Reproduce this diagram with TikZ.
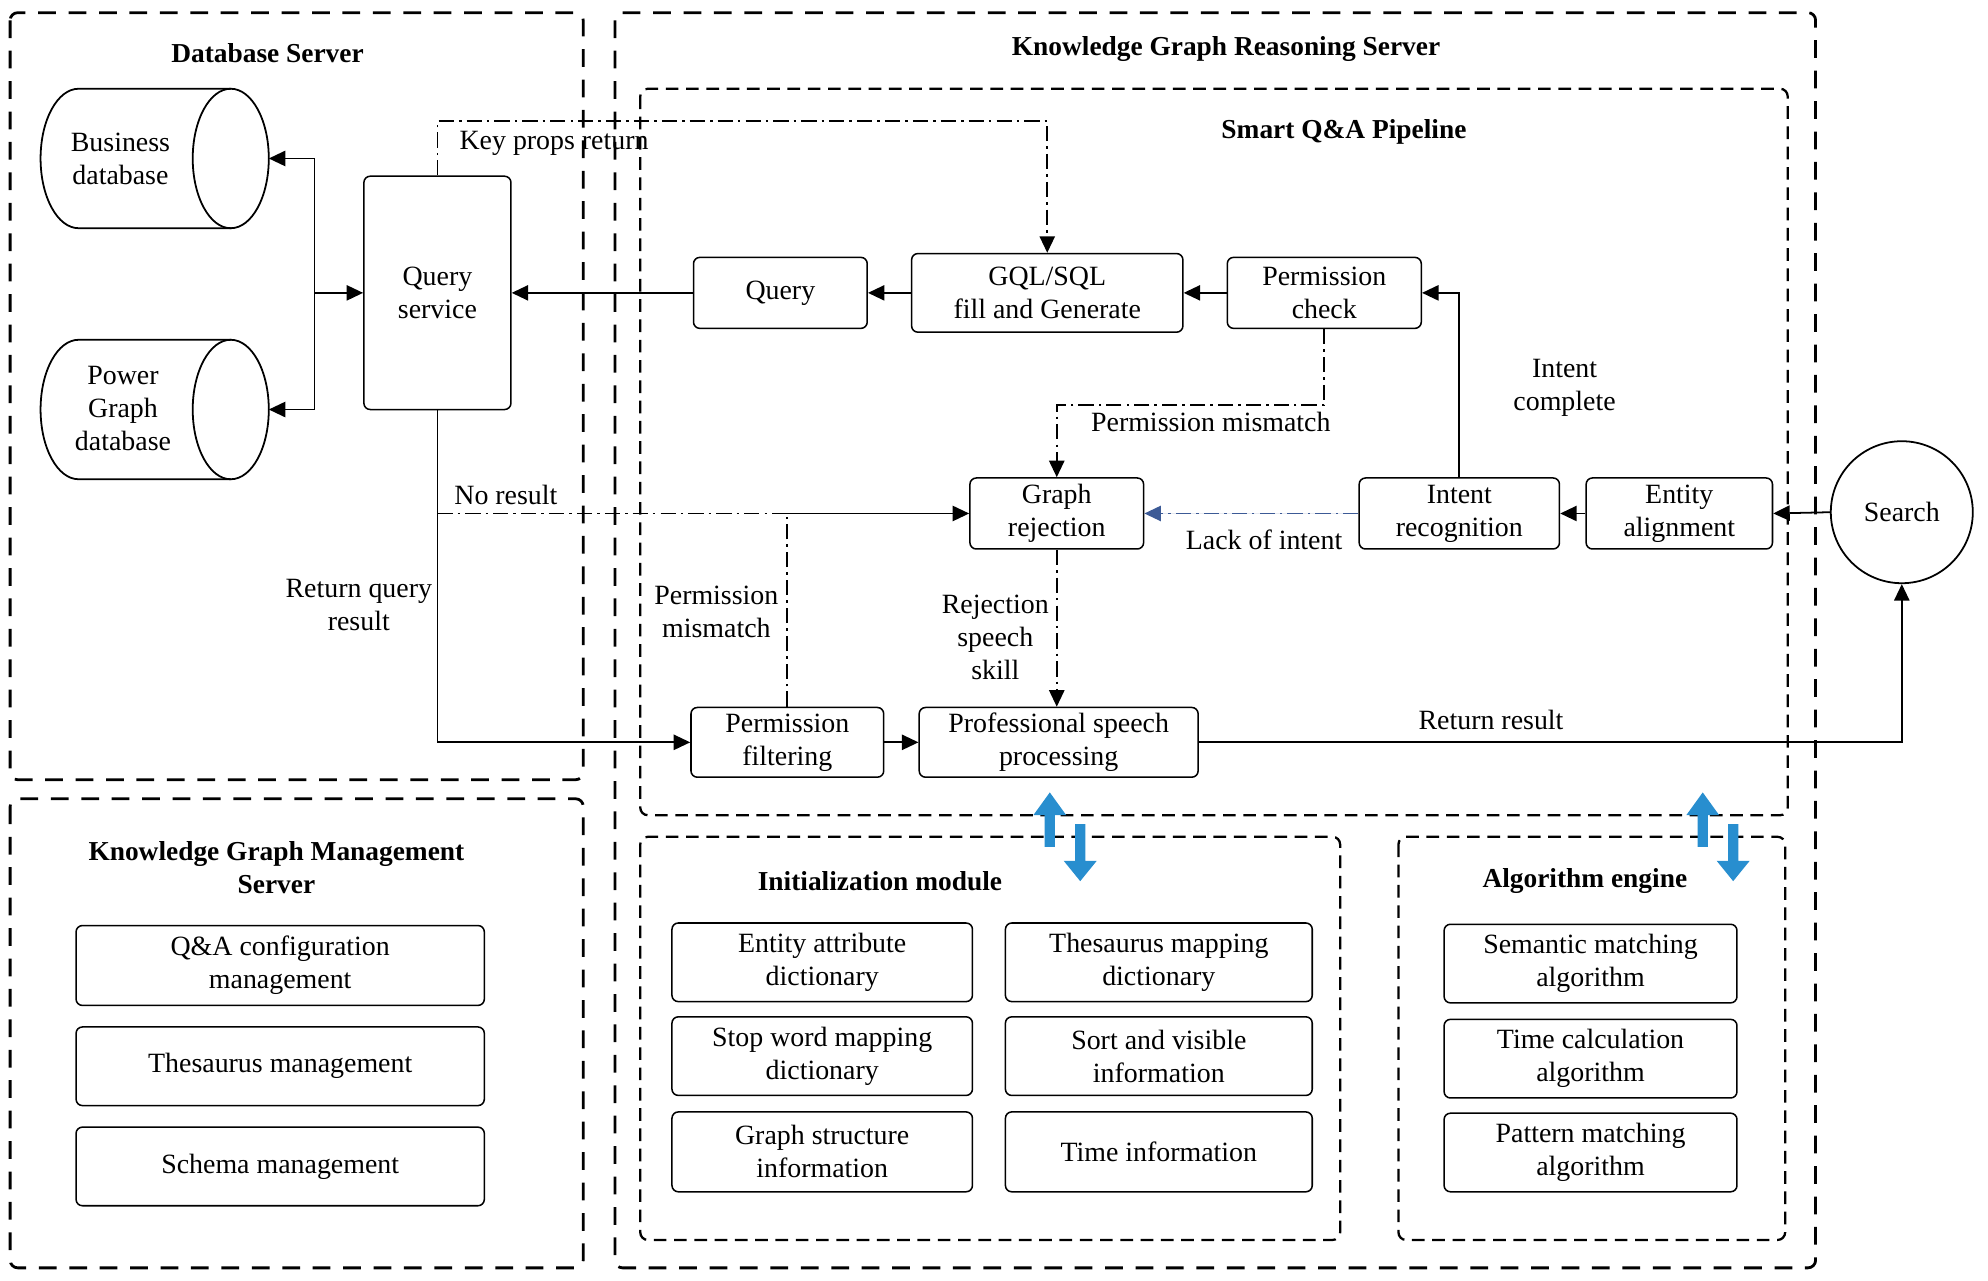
\documentclass[tikz,border=0pt]{standalone}
\usepackage{fontspec}
\setmainfont{Liberation Serif}
\usetikzlibrary{arrows.meta}
\definecolor{bluearrow}{RGB}{40,142,207}
\definecolor{bluedash}{RGB}{60,90,150}
\begin{document}
\begin{tikzpicture}[x=0.5pt,y=-0.5pt,
  txt/.style={font=\fontsize{11}{13}\selectfont, align=center, inner sep=0pt},
  lbl/.style={txt, yshift=-1pt},
  ttl/.style={font=\fontsize{10.8}{13}\selectfont\bfseries, align=center, inner sep=0pt, yshift=-1pt},
  box/.style={draw, rounded corners=2.5pt, line width=0.6pt, txt},
  outerbox/.style={draw, line width=1.1pt, dash pattern=on 7pt off 5pt, rounded corners=3pt},
  innerbox/.style={draw, line width=0.9pt, dash pattern=on 5pt off 3pt, rounded corners=3pt},
  conn/.style={line width=0.7pt},
  arr/.style={conn, -{Triangle[length=6.5pt,width=6pt]}},
  dashdot/.style={dash pattern=on 6pt off 2pt on 1pt off 2pt},
  cyl/.style={line width=0.7pt}
]
\useasboundingbox (0,0) rectangle (1568,1010);

% containers
\draw[outerbox] (8,10) rectangle (460,615);
\draw[outerbox] (8,630) rectangle (460,1000);
\draw[outerbox] (485,10) rectangle (1432,1000);
\draw[innerbox] (505,70) rectangle (1410,643);
\draw[innerbox] (505,660) rectangle (1057,978);
\draw[innerbox] (1103,660) rectangle (1408,978);

% titles
\node[ttl] (tdb) at (211,40) {Database Server};
\node[ttl] (tkgm) at (218,682) {Knowledge Graph Management\\Server};
\node[ttl] (tkgr) at (967,37) {Knowledge Graph Reasoning Server};
\node[ttl] (tqa) at (1060,102) {Smart Q\&A Pipeline};
\node[ttl] (tinit) at (694,693) {Initialization module};
\node[ttl] (talg) at (1250,693) {Algorithm engine};

% cylinders
\draw[cyl] (182,70) -- (62,70) arc[start angle=90,end angle=270,x radius=15pt,y radius=27.5pt] -- (182,180);
\draw[cyl] (182,125) ellipse[x radius=15pt,y radius=27.5pt];
\node[lbl] (biz) at (95,123) {Business\\database};
\coordinate (bizcap) at (212,125);
\draw[cyl] (182,268) -- (62,268) arc[start angle=90,end angle=270,x radius=15pt,y radius=27.5pt] -- (182,378);
\draw[cyl] (182,323) ellipse[x radius=15pt,y radius=27.5pt];
\node[lbl] (pg) at (97,320) {Power\\Graph\\database};
\coordinate (pgcap) at (212,323);

% main nodes
\node[box, minimum width=58pt, minimum height=92pt] (qserv) at (345,231) {Query\\service};
\node[box, minimum width=68.5pt, minimum height=28pt] (query) at (615.5,231) {Query};
\node[box, minimum width=107pt, minimum height=31pt] (gql) at (826,231) {GQL/SQL\\fill and Generate};
\node[box, minimum width=76.5pt, minimum height=28pt] (pcheck) at (1044.5,231) {Permission\\check};
\node[box, minimum width=79pt, minimum height=28pt] (intent) at (1151,405) {Intent\\recognition};
\node[box, minimum width=73.5pt, minimum height=28pt] (entity) at (1324.5,405) {Entity\\alignment};
\node[draw, circle, minimum size=56pt, line width=0.7pt, txt] (search) at (1500,404) {Search};
\node[box, minimum width=68.5pt, minimum height=28pt] (grej) at (833.5,405) {Graph\\rejection};
\node[box, minimum width=76pt, minimum height=27.5pt] (pfilt) at (621,585.5) {Permission\\filtering};
\node[box, minimum width=110pt, minimum height=27.5pt] (prof) at (835,585.5) {Professional speech\\processing};

% KG management boxes
\node[box, minimum width=161pt, minimum height=31.5pt] (qacfg) at (221,761.5) {Q\&A configuration\\management};
\node[box, minimum width=161pt, minimum height=31pt] (thes) at (221,841) {Thesaurus management};
\node[box, minimum width=161pt, minimum height=31pt] (schema) at (221,920) {Schema management};

% initialization boxes
\node[box, minimum width=118.5pt, minimum height=31pt] (ead) at (648.5,759) {Entity attribute\\dictionary};
\node[box, minimum width=121pt, minimum height=31pt] (tmd) at (914,759) {Thesaurus mapping\\dictionary};
\node[box, minimum width=118.5pt, minimum height=31pt] (swd) at (648.5,833) {Stop word mapping\\dictionary};
\node[box, minimum width=121pt, minimum height=31pt] (svi) at (914,833) {Sort and visible\\information};
\node[box, minimum width=118.5pt, minimum height=31.5pt] (gsi) at (648.5,908.5) {Graph structure\\information};
\node[box, minimum width=121pt, minimum height=31.5pt] (tin) at (914,908.5) {Time information};

% algorithm boxes
\node[box, minimum width=115.5pt, minimum height=31pt] (sma) at (1254.5,760) {Semantic matching\\algorithm};
\node[box, minimum width=115.5pt, minimum height=31pt] (tca) at (1254.5,835) {Time calculation\\algorithm};
\node[box, minimum width=115.5pt, minimum height=31pt] (pma) at (1254.5,909) {Pattern matching\\algorithm};

% connectors
\coordinate (br) at (248,231);
\draw[arr] (br) |- (bizcap);
\draw[arr] (br) |- (pgcap);
\draw[arr] (br) -- (qserv.west);
\draw[arr] (query.west) -- (qserv.east);
\draw[arr] (gql.west) -- (query.east);
\draw[arr] (pcheck.west) -- (gql.east);
\draw[arr] (intent.north) |- (pcheck.east);
\draw[arr] (entity.west) -- (intent.east);
\draw[arr] (search.west) -- (entity.east);
\draw[arr, dashdot, draw=bluedash, fill=bluedash] (intent.west) -- (grej.east);
\draw[arr, dashdot] (pcheck.south) -- ++(0,60) -| (grej.north);
\draw[arr, dashdot] (qserv.north) -- ++(0,-43) -| (gql.north);
\draw[arr] (qserv.south) |- (pfilt.west);
\coordinate (nr) at (qserv.south |- grej.west);
\coordinate (pm) at (pfilt.north |- grej.west);
\draw[conn, dashdot] (nr) -- (pm);
\draw[conn, dashdot] (pfilt.north) -- (pm);
\draw[arr] (pm) -- (grej.west);
\draw[arr] (pfilt.east) -- (prof.west);
\draw[arr, dashdot] (grej.south) -- (grej.south |- prof.north);
\draw[arr] (prof.east) -| (search.south);

% labels
\node[lbl] (lkp) at (437,111) {Key props return};
\node[lbl] (lpm1) at (955,331) {Permission mismatch};
\node[lbl] (lic) at (1234,304) {Intent\\complete};
\node[lbl] (lnr) at (399,388) {No result};
\node[lbl] (lli) at (997,424) {Lack of intent};
\node[lbl] (lrq) at (283,475) {Return query\\result};
\node[lbl] (lpm2) at (565,481) {Permission\\mismatch};
\node[lbl] (lrs) at (785,501) {Rejection\\speech\\skill};
\node[lbl] (lrr) at (1176,566) {Return result};

% blue block arrows
\foreach \dx in {0,515}{
  \begin{scope}[shift={(\dx,0)}]
    \fill[bluearrow] (824,668) -- (824,643) -- (815,643) -- (828,625) -- (841,643) -- (832,643) -- (832,668) -- cycle;
    \fill[bluearrow] (848,650) -- (856,650) -- (856,679) -- (865,679) -- (852,695) -- (839,679) -- (848,679) -- cycle;
  \end{scope}
}
\end{tikzpicture}
\end{document}
